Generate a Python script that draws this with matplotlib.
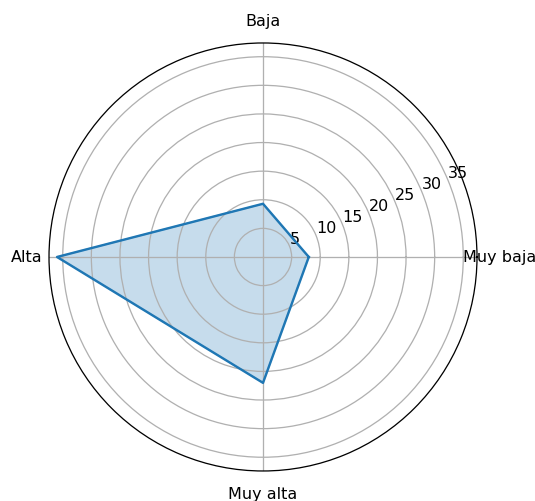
import numpy as np
import matplotlib
matplotlib.use("Agg")
import matplotlib.pyplot as plt

categories = ["Muy baja", "Baja", "Alta", "Muy alta"]
values = [8, 9.3, 36, 22]


def main():
    angles = np.linspace(0, 2 * np.pi, len(categories), endpoint=False).tolist()
    vals = values + values[:1]
    angles_closed = angles + angles[:1]

    dpi = 115
    fig = plt.figure(figsize=(535 / dpi, 502 / dpi), dpi=dpi)
    ax = fig.add_axes([0.0916, 0.0598, 0.8, 0.8526], projection="polar")

    ax.plot(angles_closed, vals, color="tab:blue", linewidth=1.5)
    ax.fill(angles_closed, vals, color="tab:blue", alpha=0.25)

    ax.set_xticks(angles)
    ax.set_xticklabels(categories)
    ax.set_rlabel_position(22.5)

    fig.savefig("out.png", dpi=dpi)


if __name__ == "__main__":
    main()
